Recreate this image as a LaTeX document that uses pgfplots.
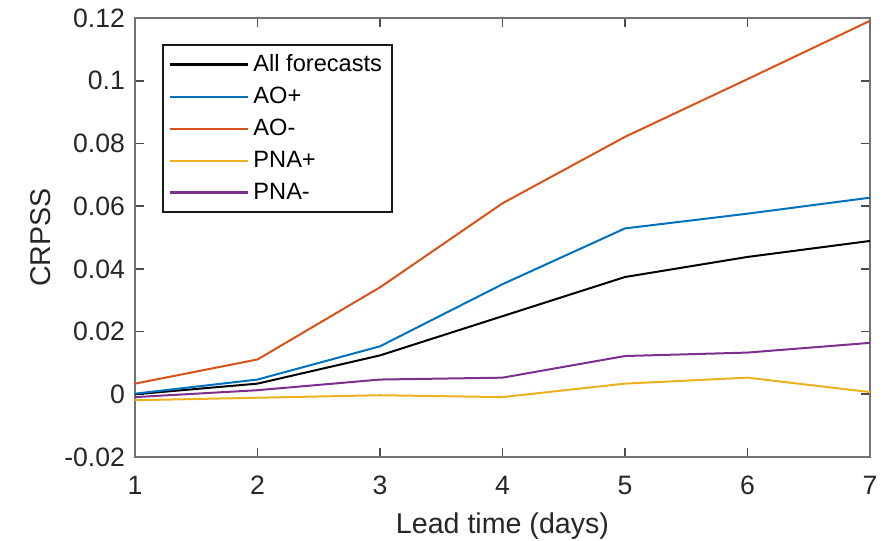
\documentclass[border=0pt]{standalone}
\usepackage{pgfplots}
\pgfplotsset{compat=1.18}
\usepackage{fontspec}
\setmainfont{Liberation Sans}
\definecolor{mblue}{rgb}{0,0.447,0.741}
\definecolor{morange}{rgb}{0.85,0.325,0.098}
\definecolor{myellow}{rgb}{0.929,0.694,0.125}
\definecolor{mpurple}{rgb}{0.494,0.184,0.556}
\begin{document}
\begin{tikzpicture}
\useasboundingbox (-67.5pt,-42pt) rectangle (377.5pt,228.5pt);
\begin{axis}[
  at={(0pt,0pt)}, anchor=south west,
  scale only axis,
  width=367.5pt, height=219.5pt,
  xmin=1, xmax=7, ymin=-0.02, ymax=0.12,
  xtick={1,2,3,4,5,6,7},
  ytick={-0.02,0,0.02,0.04,0.06,0.08,0.1,0.12},
  yticklabels={-0.02,0,0.02,0.04,0.06,0.08,0.1,0.12},
  tick align=inside,
  major tick length=4.5pt,
  axis line style={black!55, line width=1.2pt},
  tick style={black!70, line width=0.8pt},
  ticklabel style={font=\fontsize{13.3}{15}\selectfont, text=black!85},
  xticklabel style={yshift=-6pt},
  yticklabel style={xshift=-1.5pt},
  /pgf/number format/assume math mode=true,
  xlabel={Lead time (days)},
  ylabel={CRPSS},
  label style={font=\fontsize{14.3}{16}\selectfont, text=black!85},
  xlabel style={at={(axis description cs:0.5,0)}, anchor=base, yshift=-38pt},
  ylabel style={at={(axis description cs:-0.1156,0.5)}, anchor=base, rotate=0},
  legend style={at={(0.0367,0.941)}, anchor=north west, draw=black!90, line width=0.9pt,
    font=\fontsize{11.8}{13}\selectfont, row sep=2.3pt, inner xsep=3pt, inner ysep=2.8pt},
  legend cell align=left,
  legend image code/.code={\draw[#1, line width=1.3pt] (0pt,0pt) -- (39pt,0pt);},
  every axis plot/.append style={line width=1pt},
]
\addplot[black] coordinates {(1,0.0000) (2,0.0034) (3,0.0124) (4,0.0249) (5,0.0374) (6,0.0438) (7,0.0489)};
\addlegendentry{All forecasts}
\addplot[mblue] coordinates {(1,0.0002) (2,0.0047) (3,0.0153) (4,0.0351) (5,0.0529) (6,0.0576) (7,0.0627)};
\addlegendentry{AO+}
\addplot[morange] coordinates {(1,0.0034) (2,0.0111) (3,0.0341) (4,0.0609) (5,0.0821) (6,0.1005) (7,0.1191)};
\addlegendentry{AO-}
\addplot[myellow] coordinates {(1,-0.0019) (2,-0.0011) (3,-0.0003) (4,-0.0009) (5,0.0034) (6,0.0053) (7,0.0007)};
\addlegendentry{PNA+}
\addplot[mpurple] coordinates {(1,-0.0009) (2,0.0013) (3,0.0047) (4,0.0053) (5,0.0122) (6,0.0133) (7,0.0164)};
\addlegendentry{PNA-}
\end{axis}
\end{tikzpicture}
\end{document}
